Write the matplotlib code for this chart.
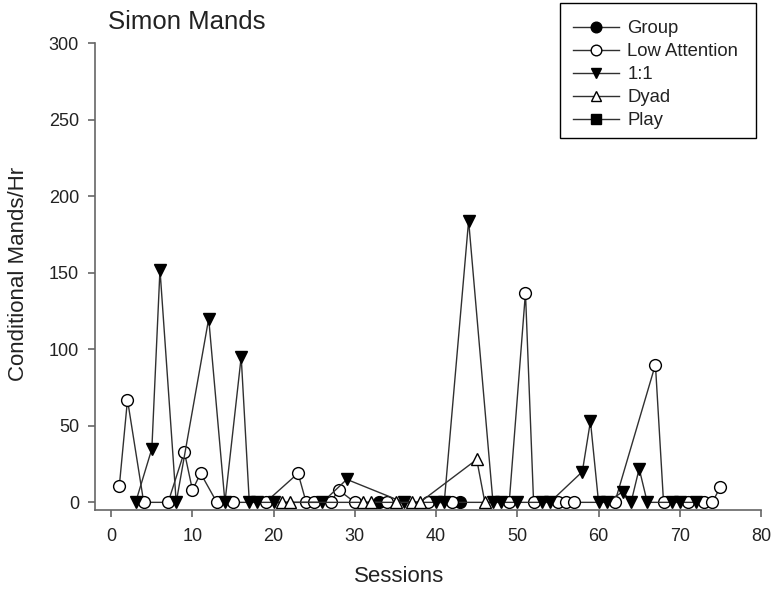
import matplotlib
matplotlib.use('Agg')
import matplotlib.pyplot as plt
from matplotlib.patches import Rectangle

plt.rcParams['font.family'] = ['Liberation Sans', 'DejaVu Sans']

# session numbers and conditional mands per hour for each condition
group_x = [33, 43]
group_y = [0, 0]

low_x = [1, 2, 4, 7, 9, 10, 11, 13, 15, 19, 23, 24, 25, 27, 28, 30, 34, 39,
         42, 49, 51, 52, 55, 56, 57, 62, 67, 68, 71, 73, 74, 75]
low_y = [11, 67, 0, 0, 33, 8, 19, 0, 0, 0, 19, 0, 0, 0, 8, 0, 0, 0,
         0, 0, 137, 0, 0, 0, 0, 0, 90, 0, 0, 0, 0, 10]

one_x = [3, 5, 6, 8, 12, 14, 16, 17, 18, 20, 26, 29, 36, 40, 41, 44, 47, 48,
         50, 53, 54, 58, 59, 60, 61, 63, 64, 65, 66, 69, 70, 72]
one_y = [0, 35, 152, 0, 120, 0, 95, 0, 0, 0, 0, 15, 0, 0, 0, 184, 0, 0,
         0, 0, 0, 20, 53, 0, 0, 7, 0, 22, 0, 0, 0, 0]

dyad_x = [21, 22, 31, 32, 35, 37, 38, 45, 46]
dyad_y = [0, 0, 0, 0, 0, 0, 0, 28, 0]

play_x = []
play_y = []

fig = plt.figure(figsize=(7.72, 5.9), dpi=100)
ax = fig.add_axes([95 / 772, 1 - 510 / 590, 666 / 772, 467 / 590])

line_c = '#303030'
ms = 8.5
kw = dict(color=line_c, lw=1.0, mec='black', mew=1.0, ms=ms)

ax.plot(group_x, group_y, marker='o', mfc='black', label='Group', **kw)
ax.plot(low_x, low_y, marker='o', mfc='white', label='Low Attention', **kw)
ax.plot(one_x, one_y, marker='v', mfc='black', label='1:1', **kw)
ax.plot(dyad_x, dyad_y, marker='^', mfc='white', label='Dyad', **kw)
ax.plot(play_x, play_y, marker='s', mfc='black', label='Play', **kw)

ax.set_xlim(-2, 80)
ax.set_ylim(-5, 300)
ax.set_xticks(range(0, 81, 10))
ax.set_yticks(range(0, 301, 50))

spine_c = '#666666'
for s in ['top', 'right']:
    ax.spines[s].set_visible(False)
for s in ['left', 'bottom']:
    ax.spines[s].set_color(spine_c)
    ax.spines[s].set_linewidth(1.2)
ax.tick_params(axis='both', direction='out', length=5, width=1.2,
               color=spine_c, labelsize=13, labelcolor='#222222')
ax.tick_params(axis='y', pad=6.5)
ax.tick_params(axis='x', pad=8)

# axis titles placed in figure space
fig.text(399 / 772, 1 - 577 / 590, 'Sessions', fontsize=16,
         color='#222222', ha='center', va='center')
fig.text(19 / 772, 1 - 274 / 590, 'Conditional Mands/Hr', fontsize=16,
         color='#222222', ha='center', va='center', rotation=90)

fig.text(108 / 772, 1 - 22 / 590, 'Simon Mands', fontsize=18.5,
         color='#222222', ha='left', va='center')

leg = fig.legend(loc='upper left', bbox_to_anchor=(573 / 772, 1 - 20 / 590),
                 frameon=False, fontsize=13.3, handlelength=2.5,
                 handletextpad=0.45, labelspacing=0.33, borderpad=0,
                 borderaxespad=0, markerscale=0.9)
for t in leg.get_texts():
    t.set_color('#222222')

fig.patches.append(Rectangle((560 / 772, 1 - 138 / 590), 196 / 772, 135 / 590,
                             transform=fig.transFigure, fill=False,
                             ec='black', lw=1.0))

fig.savefig('out.png', dpi=100)
